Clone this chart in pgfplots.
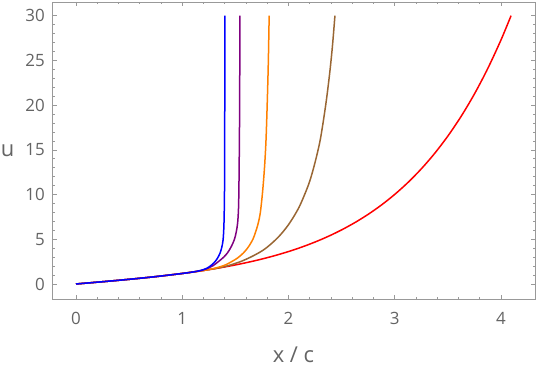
\documentclass[border=0pt]{standalone}
\usepackage{pgfplots}
\pgfplotsset{compat=1.18}
\usepackage{fontspec}
\setmainfont{Open Sans}
\usetikzlibrary{calc}
\definecolor{framegray}{HTML}{999999}
\definecolor{textgray}{HTML}{646464}
\definecolor{mmpurple}{rgb}{0.5,0,0.5}
\definecolor{mmorange}{rgb}{1,0.5,0}
\definecolor{mmbrown}{rgb}{0.6,0.4,0.2}
\begin{document}
\begin{tikzpicture}
\begin{axis}[
 scale only axis, width=483bp, height=297bp,
 xmin=-0.226, xmax=4.32, ymin=-1.68, ymax=31.53,
 xtick={0,1,2,3,4}, ytick={0,5,10,15,20,25,30},
 minor x tick num=4, minor y tick num=4,
 axis line style={framegray, line width=0.8bp},
 every tick/.style={framegray, line width=0.6bp},
 major tick length=4.5bp, minor tick length=2.5bp,
 tick label style={textgray, font=\fontsize{17}{20}\selectfont},
 /pgf/number format/assume math mode=true,
 xticklabel style={anchor=north, inner sep=0pt, yshift=-13bp},
 yticklabel style={anchor=east, inner sep=0pt, xshift=-7bp},
 every axis x label/.style={at={(axis description cs:0.5,0)}, anchor=center, yshift=-56bp},
 every axis y label/.style={at={(axis description cs:0,0.5)}, anchor=center, xshift=-44.5bp},
 label style={textgray, font=\fontsize{22}{26}\selectfont},
 xlabel={x / c}, ylabel={u},
 every axis plot/.append style={line width=1.5bp, no marks, line join=round},
]
\coordinate (bl) at (rel axis cs:0,0);
\coordinate (tr) at (rel axis cs:1,1);
% red
\addplot[color=red, smooth, tension=0.5] coordinates {
(0,0) (0.125,0.1253) (0.25,0.2526) (0.375,0.3839) (0.5,0.5211) (0.625,0.6665) (0.75,0.8223) (0.875,0.9910)
(1.0,1.1752) (1.125,1.3778) (1.25,1.6019) (1.375,1.8511) (1.5,2.1293) (1.625,2.4408) (1.75,2.7904) (1.875,3.1837)
(2.0,3.6269) (2.125,4.1267) (2.25,4.6912) (2.375,5.3290) (2.5,6.0502) (2.625,6.8658) (2.75,7.7894) (2.875,8.8343)
(3.0,10.0179) (3.125,11.358) (3.25,12.8758) (3.375,14.595) (3.5,16.5426) (3.625,18.749) (3.75,21.2488) (3.875,24.081)
(4.0,27.2899) (4.0946,30.0)
};
% brown
\addplot[color=mmbrown, smooth, tension=0.5] coordinates {
(0,0) (0.25,0.2526) (0.5,0.5211) (0.75,0.8223) (1.0,1.1752) (1.125,1.3778) (1.25,1.6019)
(1.30,1.70) (1.34,1.79) (1.40,1.95) (1.45,2.11) (1.50,2.30) (1.54,2.46) (1.60,2.76) (1.66,3.10)
(1.715,3.45) (1.76,3.77) (1.80,4.12) (1.85,4.63) (1.90,5.19) (1.95,5.86) (2.00,6.63) (2.05,7.55)
(2.10,8.60) (2.15,9.95) (2.20,11.5) (2.25,13.6) (2.30,16.2) (2.35,20.0) (2.385,23.3) (2.412,26.4) (2.437,30)
};
% orange
\addplot[color=mmorange, smooth, tension=0.5] coordinates {
(0,0) (0.25,0.2526) (0.5,0.5211) (0.75,0.8223) (1.0,1.1752) (1.125,1.3778) (1.2,1.51) (1.26,1.64)
(1.32,1.80) (1.40,2.1) (1.465,2.5) (1.52,2.9) (1.574,3.45) (1.62,4.1) (1.665,5.0) (1.69,5.8) (1.715,6.8)
(1.735,8.0) (1.756,10.3) (1.774,13.0) (1.788,16.0) (1.800,20.3) (1.810,24.8) (1.818,30)
};
% purple
\addplot[color=mmpurple, smooth, tension=0.5] coordinates {
(0,0) (0.25,0.2526) (0.5,0.5211) (0.75,0.8223) (1.0,1.1752) (1.1,1.34) (1.17,1.49) (1.23,1.70)
(1.29,2.05) (1.34,2.5) (1.39,3.0) (1.427,3.5) (1.46,4.15) (1.49,4.95) (1.508,5.8) (1.521,6.8)
(1.529,8.3) (1.533,10.5) (1.537,15) (1.540,20) (1.543,30)
};
% blue
\addplot[color=blue, smooth, tension=0.5] coordinates {
(0,0) (0.25,0.2526) (0.5,0.5211) (0.75,0.8223) (1.0,1.1752) (1.1,1.34) (1.17,1.50) (1.23,1.75)
(1.27,2.06) (1.30,2.38) (1.33,2.85) (1.355,3.43) (1.372,4.1) (1.384,4.9) (1.391,6.2) (1.395,8.0)
(1.398,11) (1.3995,16) (1.401,30)
};
\end{axis}
\pgfresetboundingbox
\path ($(bl)+(-52bp,-70bp)$) rectangle ($(tr)+(2bp,2bp)$);
\end{tikzpicture}
\end{document}
